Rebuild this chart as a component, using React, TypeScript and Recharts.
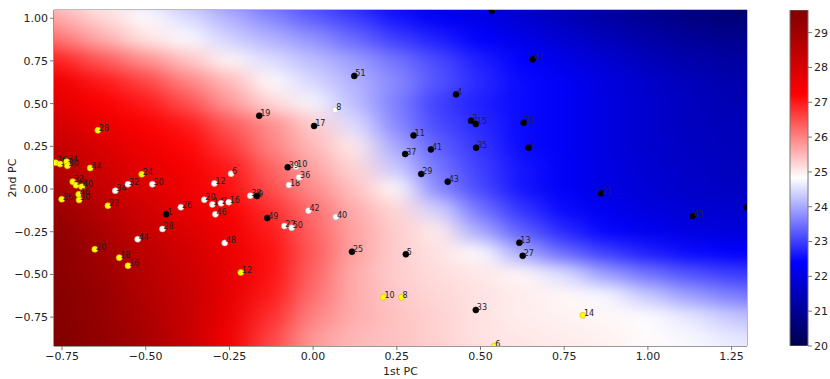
import React from "react";
import { ScatterChart, Scatter, XAxis, YAxis, ReferenceArea, BarChart, Bar } from "recharts";

// axis ranges
const XMIN = -0.774;
const XMAX = 1.296;
const YMIN = -0.919;
const YMAX = 1.048;
const X_TICKS = [-0.75, -0.5, -0.25, 0, 0.25, 0.5, 0.75, 1.0, 1.25];
const Y_TICKS = [-0.75, -0.5, -0.25, 0, 0.25, 0.5, 0.75, 1.0];
const CBAR_MIN = 20;
const CBAR_MAX = 29.65;
const CBAR_TICKS = [20, 21, 22, 23, 24, 25, 26, 27, 28, 29];

// background surface, read on a 0.125 grid (cell centres)
const GRID_X = [-0.875, -0.75, -0.625, -0.5, -0.375, -0.25, -0.125, 0, 0.125, 0.25, 0.375, 0.5, 0.625, 0.75, 0.875, 1.0, 1.125, 1.25, 1.375];
const GRID_Y = [1.125, 1.0, 0.875, 0.75, 0.625, 0.5, 0.375, 0.25, 0.125, 0, -0.125, -0.25, -0.375, -0.5, -0.625, -0.75, -0.875, -1.0];
const HEAT_ROWS = [
  [25.6, 25.2, 24.9, 24.5, 24.1, 23.7, 23.3, 23.0, 22.6, 22.3, 22.1, 21.9, 21.6, 21.3, 21.0, 20.7, 20.5, 20.4, 20.3],
  [26.0, 25.6, 25.2, 24.85, 24.5, 24.1, 23.7, 23.3, 23.0, 22.6, 22.3, 22.1, 21.8, 21.5, 21.2, 20.95, 20.75, 20.6, 20.5],
  [26.6, 26.1, 25.6, 25.1, 24.8, 24.4, 24.1, 23.8, 23.4, 23.0, 22.7, 22.4, 22.1, 21.8, 21.5, 21.25, 21.05, 20.9, 20.85],
  [27.4, 26.9, 26.4, 25.9, 25.4, 24.9, 24.5, 24.2, 23.9, 23.5, 23.1, 22.7, 22.4, 22.1, 21.8, 21.5, 21.3, 21.15, 21.05],
  [27.9, 27.5, 27.0, 26.6, 26.0, 25.5, 24.85, 24.45, 24.1, 23.7, 23.2, 22.8, 22.5, 22.3, 22.0, 21.7, 21.5, 21.3, 21.2],
  [28.2, 27.7, 27.3, 27.0, 26.5, 25.8, 25.2, 24.75, 24.2, 23.6, 23.0, 22.7, 22.5, 22.3, 22.0, 21.75, 21.55, 21.4, 21.3],
  [28.5, 28.0, 27.6, 27.3, 27.0, 26.4, 25.9, 25.3, 24.5, 23.7, 23.1, 22.8, 22.5, 22.3, 22.0, 21.75, 21.55, 21.45, 21.35],
  [28.7, 28.3, 27.9, 27.5, 27.2, 26.7, 26.0, 25.5, 25.0, 24.0, 23.3, 22.9, 22.5, 22.3, 22.0, 21.75, 21.6, 21.5, 21.4],
  [29.0, 28.6, 28.1, 27.7, 27.4, 27.0, 26.3, 25.7, 25.2, 24.3, 23.5, 23.0, 22.6, 22.3, 22.05, 21.8, 21.65, 21.55, 21.45],
  [29.3, 28.8, 28.3, 27.9, 27.5, 27.1, 26.5, 25.9, 25.4, 24.85, 23.7, 23.1, 22.6, 22.3, 22.05, 21.85, 21.7, 21.6, 21.55],
  [29.5, 29.1, 28.6, 28.1, 27.7, 27.3, 26.8, 26.2, 25.6, 25.2, 24.4, 23.5, 22.9, 22.5, 22.2, 22.0, 21.85, 21.75, 21.7],
  [29.6, 29.3, 28.8, 28.3, 27.9, 27.5, 27.0, 26.3, 25.7, 25.3, 25.0, 24.0, 23.3, 22.8, 22.45, 22.2, 22.05, 21.95, 21.9],
  [29.6, 29.4, 29.0, 28.5, 28.1, 27.6, 27.1, 26.4, 25.7, 25.3, 25.1, 24.8, 24.0, 23.4, 23.0, 22.7, 22.5, 22.4, 22.3],
  [29.7, 29.4, 29.1, 28.6, 28.2, 27.7, 27.1, 26.3, 25.6, 25.3, 25.15, 25.05, 24.9, 24.5, 23.9, 23.5, 23.2, 23.0, 22.9],
  [29.7, 29.5, 29.2, 28.7, 28.3, 27.7, 27.0, 26.2, 25.6, 25.35, 25.2, 25.1, 25.0, 24.9, 24.75, 24.3, 23.9, 23.6, 23.4],
  [29.7, 29.5, 29.2, 28.8, 28.3, 27.6, 26.8, 26.0, 25.6, 25.4, 25.25, 25.1, 25.0, 24.95, 24.9, 24.8, 24.6, 24.3, 24.1],
  [29.7, 29.6, 29.3, 28.9, 28.3, 27.5, 26.6, 25.8, 25.5, 25.4, 25.25, 25.1, 25.05, 25.0, 24.95, 24.85, 24.75, 24.6, 24.5],
  [29.7, 29.6, 29.3, 28.9, 28.3, 27.4, 26.5, 25.8, 25.5, 25.4, 25.3, 25.15, 25.1, 25.05, 25.0, 24.9, 24.8, 24.7, 24.6],
];

// labelled points: [label, 1st PC, 2nd PC]
const BLACK_PTS: [string, number, number][] = [
  ["1", -0.439, -0.148], ["2", 0.534, 1.045], ["3", 0.472, 0.4], ["4", 0.427, 0.554],
  ["5", 0.277, -0.382], ["7", 0.644, 0.242], ["9", -0.168, -0.041], ["11", 0.3, 0.314],
  ["13", 0.616, -0.314], ["15", 0.486, 0.381], ["17", 0.003, 0.369], ["19", -0.161, 0.429],
  ["21", 0.86, -0.025], ["23", 1.295, -0.107], ["25", 0.116, -0.367], ["27", 0.626, -0.391],
  ["29", 0.323, 0.088], ["31", 0.629, 0.388], ["33", 0.486, -0.708], ["35", 0.487, 0.242],
  ["37", 0.275, 0.205], ["39", -0.076, 0.127], ["41", 0.352, 0.232], ["43", 0.402, 0.043],
  ["45", 1.133, -0.158], ["47", 0.656, 0.759], ["49", -0.137, -0.17], ["51", 0.123, 0.662],
];
const WHITE_PTS: [string, number, number][] = [
  ["34", -0.591, -0.01], ["32", -0.553, 0.028], ["30", -0.48, 0.028], ["12", -0.295, 0.033],
  ["6", -0.245, 0.09], ["20", -0.325, -0.063], ["14", -0.301, -0.09], ["2", -0.275, -0.084],
  ["16", -0.252, -0.078], ["26", -0.395, -0.107], ["46", -0.292, -0.148], ["38", -0.188, -0.039],
  ["10", -0.051, 0.131], ["18", -0.072, 0.023], ["36", -0.042, 0.068], ["42", -0.014, -0.127],
  ["40", 0.068, -0.164], ["22", -0.086, -0.217], ["50", -0.064, -0.227], ["28", -0.45, -0.234],
  ["44", -0.524, -0.294], ["48", -0.264, -0.316], ["8", 0.066, 0.463],
];
const YELLOW_PTS: [string, number, number][] = [
  ["28", -0.643, 0.344], ["36", -0.769, 0.154], ["38", -0.756, 0.146], ["34", -0.736, 0.16],
  ["30", -0.734, 0.136], ["44", -0.666, 0.123], ["24", -0.512, 0.086], ["32", -0.718, 0.043],
  ["48", -0.708, 0.022], ["40", -0.691, 0.013], ["46", -0.7, -0.031], ["50", -0.699, -0.064],
  ["26", -0.751, -0.06], ["22", -0.613, -0.098], ["20", -0.652, -0.353], ["18", -0.579, -0.402],
  ["16", -0.553, -0.449], ["12", -0.216, -0.488], ["10", 0.21, -0.634], ["8", 0.264, -0.634],
  ["14", 0.806, -0.739], ["6", 0.541, -0.919],
];

const FONT = "DejaVu Sans, sans-serif";
const PLOT_W = 693;
const PLOT_H = 336;
const STEP = 0.125;
const CELL_W = (PLOT_W * STEP) / (XMAX - XMIN) + 1;
const CELL_H = (PLOT_H * STEP) / (YMAX - YMIN) + 1;

// matplotlib "seismic"
const STOPS: [number, number, number, number][] = [
  [0, 0, 0, 0.3],
  [0.25, 0, 0, 1],
  [0.5, 1, 1, 1],
  [0.75, 1, 0, 0],
  [1, 0.5, 0, 0],
];
function seismic(v: number) {
  let t = (v - CBAR_MIN) / (CBAR_MAX - CBAR_MIN);
  t = Math.max(0, Math.min(1, t));
  for (let i = 1; i < STOPS.length; i++) {
    if (t <= STOPS[i][0]) {
      const a = STOPS[i - 1];
      const b = STOPS[i];
      const f = (t - a[0]) / (b[0] - a[0]);
      const c = [1, 2, 3].map((k) => Math.round(255 * (a[k] + (b[k] - a[k]) * f)));
      return `rgb(${c[0]},${c[1]},${c[2]})`;
    }
  }
  return "rgb(128,0,0)";
}

const heatData = GRID_Y.flatMap((y, r) => GRID_X.map((x, c) => ({ x, y, v: HEAT_ROWS[r][c] })));
const toRows = (pts: [string, number, number][]) => pts.map(([label, x, y]) => ({ label, x, y }));
const cbarData = [{ name: "cbar", range: [CBAR_MIN, CBAR_MAX] }];

const fmt = (v: number) => v.toFixed(2).replace("-", "\u2212");

function HeatCell(props: any) {
  const { cx, cy, payload } = props;
  return <rect x={cx - CELL_W / 2} y={cy - CELL_H / 2} width={CELL_W} height={CELL_H} fill={seismic(payload.v)} />;
}

function makeDot(fill: string, stroke: string) {
  return (props: any) => {
    const { cx, cy, payload } = props;
    return (
      <g>
        <circle cx={cx} cy={cy} r={3} fill={fill} stroke={stroke} strokeWidth={0.6} />
        <text x={cx + 1} y={cy + 0.5} fontSize={8} fill="#222" fontFamily={FONT}>
          {payload.label}
        </text>
      </g>
    );
  };
}

const tickStyle = { fontSize: 11, fill: "#222", fontFamily: FONT };

export default function App() {
  return (
    <div style={{ position: "absolute", left: 0, top: 0, width: 830, height: 379, background: "#fff" }}>
      <style>{`.heat-layer{filter:url(#heatBlur);}`}</style>
      <div style={{ position: "absolute", left: 0, top: 0 }}>
        <ScatterChart width={760} height={379} margin={{ top: 10, right: 13, bottom: 0, left: 0 }}>
          <defs>
            <filter id="heatBlur" x="-10%" y="-10%" width="120%" height="120%" colorInterpolationFilters="sRGB">
              <feGaussianBlur stdDeviation="15 8" edgeMode="duplicate" />
            </filter>
          </defs>
          <XAxis
            type="number"
            dataKey="x"
            domain={[XMIN, XMAX]}
            allowDataOverflow
            ticks={X_TICKS}
            tickFormatter={fmt}
            height={33}
            tick={tickStyle}
            stroke="#777"
            tickSize={4}
            label={{ value: "1st PC", position: "insideBottom", offset: 4, style: { fontSize: 11, fill: "#222", fontFamily: FONT } }}
          />
          <YAxis
            type="number"
            dataKey="y"
            domain={[YMIN, YMAX]}
            allowDataOverflow
            ticks={Y_TICKS}
            tickFormatter={fmt}
            width={54}
            tick={tickStyle}
            stroke="#777"
            tickSize={4}
            label={{ value: "2nd PC", angle: -90, position: "insideLeft", offset: 12, style: { fontSize: 11, fill: "#222", fontFamily: FONT, textAnchor: "middle" } }}
          />
          <Scatter className="heat-layer" data={heatData} shape={HeatCell} isAnimationActive={false} />
          <Scatter data={toRows(WHITE_PTS)} shape={makeDot("#ffffff", "#bbbbbb")} isAnimationActive={false} />
          <Scatter data={toRows(YELLOW_PTS)} shape={makeDot("#ffff00", "#d8c000")} isAnimationActive={false} />
          <Scatter data={toRows(BLACK_PTS)} shape={makeDot("#000000", "#000000")} isAnimationActive={false} />
          <ReferenceArea x1={XMIN} x2={XMAX} y1={YMIN} y2={YMAX} fill="none" stroke="#777" strokeWidth={1} ifOverflow="visible" />
        </ScatterChart>
      </div>
      <div style={{ position: "absolute", left: 780, top: 0 }}>
        <BarChart width={60} height={379} margin={{ top: 10, right: 0, bottom: 33, left: 10 }} data={cbarData} barCategoryGap={0}>
          <defs>
            <linearGradient id="cbarGrad" x1="0" y1="1" x2="0" y2="0">
              {STOPS.map((s) => (
                <stop key={s[0]} offset={s[0]} stopColor={`rgb(${s[1] * 255},${s[2] * 255},${s[3] * 255})`} />
              ))}
            </linearGradient>
          </defs>
          <XAxis dataKey="name" hide />
          <YAxis
            type="number"
            orientation="right"
            domain={[CBAR_MIN, CBAR_MAX]}
            ticks={CBAR_TICKS}
            width={32}
            axisLine={false}
            tick={tickStyle}
            stroke="#777"
            tickSize={4}
            allowDataOverflow
          />
          <Bar dataKey="range" fill="url(#cbarGrad)" stroke="#777" strokeWidth={1} isAnimationActive={false} />
        </BarChart>
      </div>
    </div>
  );
}
